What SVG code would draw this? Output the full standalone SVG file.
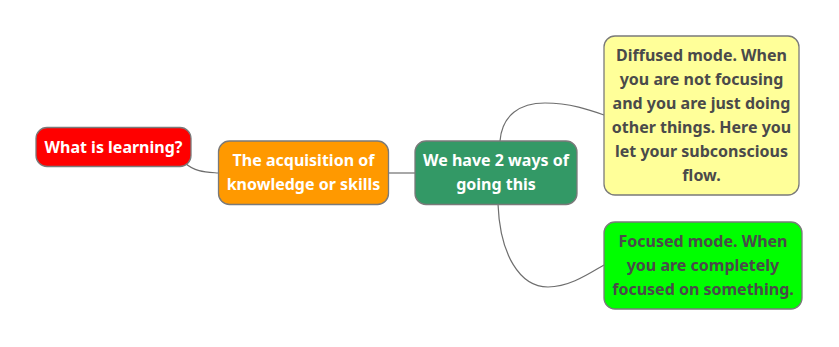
<svg xmlns="http://www.w3.org/2000/svg" width="839" height="347" viewBox="0 0 839 347">
  <style>
    .box { stroke: #7a7a7a; stroke-width: 1.3; }
    .lbl { font-family: "Noto Sans", "Open Sans", sans-serif; font-weight: bold; font-size: 16px; text-anchor: middle; }
    .light { fill: #ffffff; }
    .dark { fill: #4a4a4a; }
    .link { fill: none; stroke: #6e6e6e; stroke-width: 1.2; }
  </style>
  <rect width="839" height="347" fill="#ffffff"/>

  <g id="connectors">
    <path class="link" d="M185,163 C195,172 205,172 218,173"/>
    <path class="link" d="M388,173 L415,173"/>
    <path class="link" d="M500,141 C502,115 520,103 545,103 C570,103 590,110 604,115"/>
    <path class="link" d="M498,204 C500,255 520,287 548,287 C570,287 590,273 604,265"/>
  </g>

  <g id="what-is-learning">
    <rect class="box" x="36" y="127.5" width="155" height="39" rx="11" fill="#ff0000"/>
    <text class="lbl light" x="113.5" y="152.5">What is learning?</text>
  </g>

  <g id="acquisition">
    <rect class="box" x="218.5" y="141" width="170" height="63.5" rx="11" fill="#ff9900"/>
    <text class="lbl light" x="303.5" y="166">The acquisition of</text>
    <text class="lbl light" x="303.5" y="190">knowledge or skills</text>
  </g>

  <g id="two-ways">
    <rect class="box" x="415" y="141" width="162" height="63.5" rx="11" fill="#339966"/>
    <text class="lbl light" x="496" y="166">We have 2 ways of</text>
    <text class="lbl light" x="496" y="190">going this</text>
  </g>

  <g id="diffused-mode">
    <rect class="box" x="604" y="36" width="195" height="159" rx="11" fill="#ffff99"/>
    <text class="lbl dark" x="701.5" y="61">Diffused mode. When</text>
    <text class="lbl dark" x="701.5" y="85">you are not focusing</text>
    <text class="lbl dark" x="701.5" y="109">and you are just doing</text>
    <text class="lbl dark" x="701.5" y="133">other things. Here you</text>
    <text class="lbl dark" x="701.5" y="157">let your subconscious</text>
    <text class="lbl dark" x="701.5" y="181">flow.</text>
  </g>

  <g id="focused-mode">
    <rect class="box" x="604" y="222" width="198" height="87" rx="11" fill="#00ff00"/>
    <text class="lbl dark" x="703" y="247">Focused mode. When</text>
    <text class="lbl dark" x="703" y="271">you are completely</text>
    <text class="lbl dark" x="703" y="295">focused on something.</text>
  </g>
</svg>
